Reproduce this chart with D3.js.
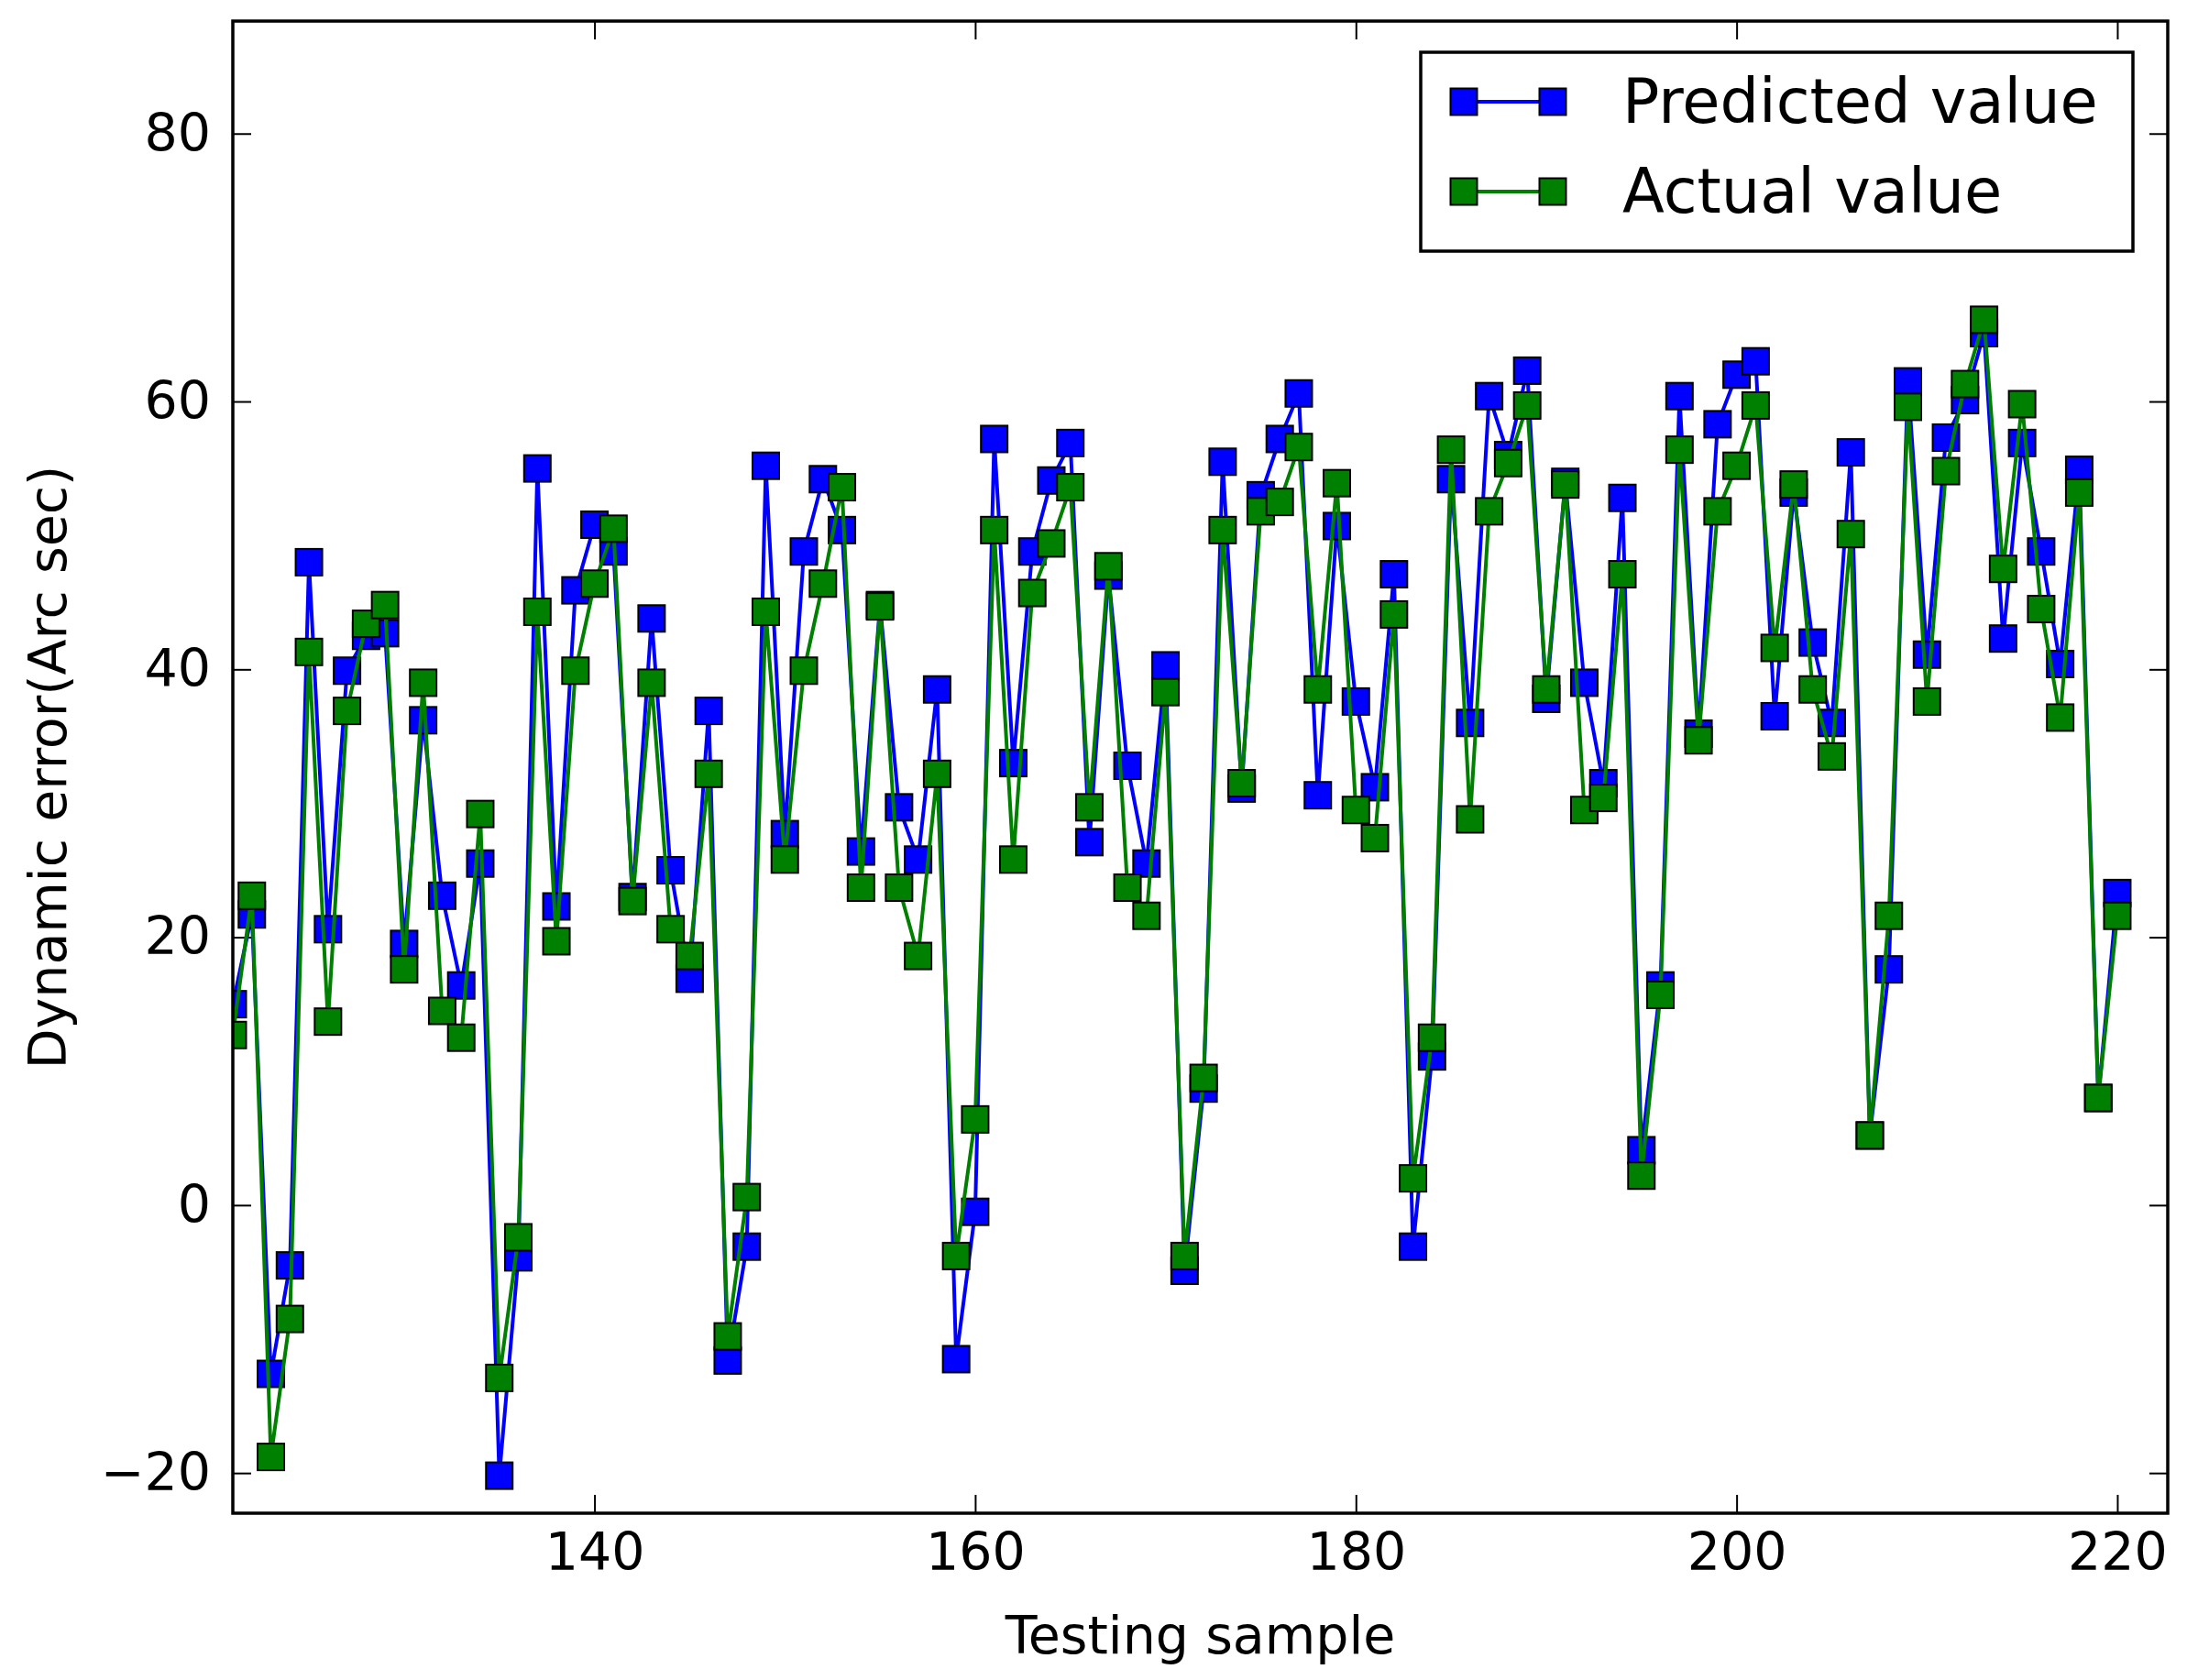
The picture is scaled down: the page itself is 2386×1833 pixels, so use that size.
<!DOCTYPE html>
<html>
<head>
<meta charset="utf-8">
<script src="https://cdn.jsdelivr.net/npm/d3@7"></script>
<style>
  body { margin: 0; background: #fff; }
  svg { display: block; font-family: "DejaVu Sans", sans-serif; }
</style>
</head>
<body>
<div id="chart"></div>
<script>
// testing sample index 121..220
var samples = d3.range(121, 221);

var predicted = [
  15.0, 21.7, -12.6, -4.5, 48.0, 20.6, 39.9, 42.5, 42.7, 19.5,
  36.2, 23.1, 16.4, 25.5, -20.2, -3.9, 55.0, 22.3, 45.9, 50.8,
  48.8, 23.0, 43.8, 25.0, 16.9, 36.9, -11.6, -3.1, 55.2, 27.7,
  48.8, 54.2, 50.4, 26.4, 44.8, 29.7, 25.8, 38.5, -11.5, -0.5,
  57.2, 33.0, 48.8, 54.1, 56.9, 27.1, 47.0, 32.8, 25.5, 40.3,
  -4.9, 8.7, 55.5, 31.1, 53.0, 57.2, 60.6, 30.6, 50.7, 37.6,
  31.2, 47.1, -3.1, 11.1, 54.2, 36.0, 60.4, 56.0, 62.3, 37.8,
  54.0, 39.0, 31.5, 52.8, 4.1, 16.4, 60.4, 35.2, 58.3, 62.0,
  63.0, 36.5, 53.2, 42.0, 36.0, 56.2, 5.2, 17.6, 61.5, 41.1,
  57.3, 60.1, 65.1, 42.3, 56.9, 48.8, 40.4, 54.9, 8.0, 23.3
];

var actual = [
  12.7, 23.1, -18.8, -8.5, 41.3, 13.7, 36.9, 43.4, 44.8, 17.6,
  39.0, 14.5, 12.5, 29.2, -12.9, -2.4, 44.3, 19.7, 39.9, 46.4,
  50.5, 22.7, 39.0, 20.6, 18.6, 32.2, -9.8, 0.6, 44.3, 25.8,
  39.9, 46.4, 53.6, 23.7, 44.7, 23.7, 18.6, 32.2, -3.8, 6.4,
  50.4, 25.8, 45.7, 49.4, 53.6, 29.7, 47.7, 23.7, 21.6, 38.3,
  -3.8, 9.5, 50.4, 31.5, 51.8, 52.5, 56.6, 38.5, 53.9, 29.5,
  27.4, 44.1, 2.0, 12.5, 56.4, 28.8, 51.8, 55.4, 59.7, 38.5,
  53.8, 29.5, 30.4, 47.1, 2.2, 15.7, 56.4, 34.7, 51.8, 55.2,
  59.7, 41.6, 53.8, 38.5, 33.5, 50.1, 5.2, 21.6, 59.6, 37.6,
  54.8, 61.3, 66.1, 47.5, 59.8, 44.5, 36.4, 53.2, 8.0, 21.6
];

var xTicks = [140, 160, 180, 200, 220];
var yTicks = [-20, 0, 20, 40, 60, 80];
var seriesNames = ["Predicted value", "Actual value"];
var seriesColors = ["#0000ff", "#008000"];

var width = 2386, height = 1833;
var plotLeft = 254, plotRight = 2365, plotTop = 23, plotBottom = 1651;
var markerSize = 29;

var svg = d3.select("#chart").append("svg")
  .attr("width", width)
  .attr("height", height);

var x = d3.scaleLinear().domain([121, 222.65]).range([plotLeft, plotRight]);
var y = d3.scaleLinear().domain([-23, 88.4]).range([plotBottom, plotTop]);

svg.append("defs").append("clipPath")
  .attr("id", "plot-clip")
  .append("rect")
  .attr("x", plotLeft).attr("y", plotTop)
  .attr("width", plotRight - plotLeft).attr("height", plotBottom - plotTop);

// axes, ticks pointing inwards on all four sides
function styleAxis(g) {
  g.select(".domain").remove();
  g.selectAll(".tick line").attr("stroke", "#000").attr("stroke-width", 2);
  g.selectAll(".tick text").attr("fill", "#000").attr("font-size", 57)
    .attr("font-family", "DejaVu Sans, sans-serif");
}

svg.append("g")
  .attr("transform", "translate(0," + plotBottom + ")")
  .call(d3.axisBottom(x).tickValues(xTicks).tickSize(-20).tickPadding(22))
  .call(styleAxis);

svg.append("g")
  .attr("transform", "translate(0," + plotTop + ")")
  .call(d3.axisTop(x).tickValues(xTicks).tickSize(-20).tickFormat(""))
  .call(styleAxis);

svg.append("g")
  .attr("transform", "translate(" + plotLeft + ",0)")
  .call(d3.axisLeft(y).tickValues(yTicks).tickSize(-20).tickPadding(24)
    .tickFormat(function (d) { return d < 0 ? "\u2212" + Math.abs(d) : d; }))
  .call(styleAxis);

svg.append("g")
  .attr("transform", "translate(" + plotRight + ",0)")
  .call(d3.axisRight(y).tickValues(yTicks).tickSize(-20).tickFormat(""))
  .call(styleAxis);

// series
var plot = svg.append("g").attr("clip-path", "url(#plot-clip)");

var line = d3.line()
  .x(function (d) { return x(d[0]); })
  .y(function (d) { return y(d[1]); });

[predicted, actual].forEach(function (values, i) {
  var pts = samples.map(function (s, j) { return [s, values[j]]; });
  var g = plot.append("g");
  g.append("path")
    .datum(pts)
    .attr("d", line)
    .attr("fill", "none")
    .attr("stroke", seriesColors[i])
    .attr("stroke-width", 4)
    .attr("stroke-linejoin", "round");
  g.selectAll("rect")
    .data(pts)
    .enter().append("rect")
    .attr("x", function (d) { return x(d[0]) - markerSize / 2; })
    .attr("y", function (d) { return y(d[1]) - markerSize / 2; })
    .attr("width", markerSize)
    .attr("height", markerSize)
    .attr("fill", seriesColors[i])
    .attr("stroke", "#000")
    .attr("stroke-width", 2);
});

// frame
svg.append("rect")
  .attr("x", plotLeft).attr("y", plotTop)
  .attr("width", plotRight - plotLeft).attr("height", plotBottom - plotTop)
  .attr("fill", "none")
  .attr("stroke", "#000")
  .attr("stroke-width", 3.5);

// axis labels
svg.append("text")
  .attr("x", (plotLeft + plotRight) / 2)
  .attr("y", 1804)
  .attr("text-anchor", "middle")
  .attr("font-size", 57)
  .text("Testing sample");

svg.append("text")
  .attr("transform", "translate(52," + (plotTop + plotBottom) / 2 + ") rotate(-90)")
  .attr("text-anchor", "middle")
  .attr("dominant-baseline", "central")
  .attr("font-size", 57)
  .text("Dynamic error(Arc sec)");

// legend
var legend = svg.append("g");
legend.append("rect")
  .attr("x", 1550).attr("y", 57)
  .attr("width", 777).attr("height", 217)
  .attr("fill", "#fff")
  .attr("stroke", "#000")
  .attr("stroke-width", 3.5);

var rows = legend.selectAll(".row")
  .data(seriesNames)
  .enter().append("g")
  .attr("class", "row")
  .attr("transform", function (d, i) { return "translate(0," + (111 + i * 98) + ")"; });

rows.append("line")
  .attr("x1", 1597).attr("x2", 1694)
  .attr("stroke", function (d, i) { return seriesColors[i]; })
  .attr("stroke-width", 4);

rows.selectAll("rect")
  .data(function (d, i) { return [[1597, i], [1694, i]]; })
  .enter().append("rect")
  .attr("x", function (d) { return d[0] - 14.5; })
  .attr("y", -14.5)
  .attr("width", 29).attr("height", 29)
  .attr("fill", function (d) { return seriesColors[d[1]]; })
  .attr("stroke", "#000")
  .attr("stroke-width", 2);

rows.append("text")
  .attr("x", 1770)
  .attr("y", 0)
  .attr("dominant-baseline", "central")
  .attr("font-size", 67)
  .text(function (d) { return d; });
</script>
</body>
</html>
